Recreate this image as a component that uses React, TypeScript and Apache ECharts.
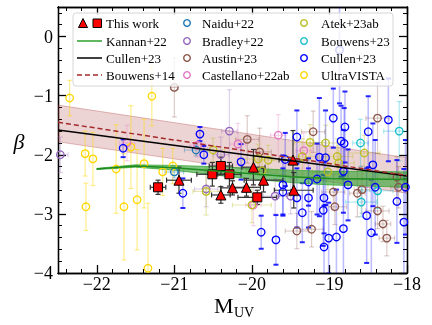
import React, { useEffect, useRef } from 'react';
import * as echarts from 'echarts';

const FONT = 'Liberation Serif';

// axis ticks
const xMajor = [-22, -21, -20, -19, -18];
const xMinor = [-22.4, -22.2, -21.8, -21.6, -21.4, -21.2, -20.8, -20.6, -20.4, -20.2, -19.8, -19.6, -19.4, -19.2, -18.8, -18.6, -18.4, -18.2];
const yMajor = [0, -1, -2, -3, -4];
const yMinor = [0.4, 0.2, -0.2, -0.4, -0.6, -0.8, -1.2, -1.4, -1.6, -1.8, -2.2, -2.4, -2.6, -2.8, -3.2, -3.4, -3.6, -3.8];

// relations
const cullenLineM = [-22.5, -18];
const cullenLineBeta = [-1.58, -2.36];
const bouwens14M = [-22.5, -18];
const bouwens14Beta = [-1.45, -2.35];
const bouwens14Hi = [-1.16, -2.05];
const bouwens14Lo = [-1.78, -2.65];
const kannanM = [-22.0, -21.5, -21.0, -20.5, -20.0, -19.5, -19.0, -18.5, -18.0];
const kannanBeta = [-2.24, -2.19, -2.22, -2.27, -2.32, -2.37, -2.4, -2.41, -2.42];
const kannanHi = [-2.23, -2.17, -2.18, -2.2, -2.23, -2.26, -2.28, -2.28, -2.29];
const kannanLo = [-2.25, -2.21, -2.26, -2.34, -2.41, -2.47, -2.51, -2.53, -2.55];

// [M, beta, xerr, yerr]
const thisWorkTri = [
  [-20.94, -2.43, 0.16, 0.22], [-20.4, -2.68, 0.12, 0.14], [-20.25, -2.56, 0.15, 0.12],
  [-20.07, -2.55, 0.18, 0.15], [-19.98, -2.21, 0.15, 0.3], [-19.85, -2.43, 0.25, 0.2],
  [-19.47, -2.09, 0.18, 0.5], [-19.46, -2.6, 0.25, 0.3],
];
const thisWorkSq = [
  [-21.21, -2.55, 0.1, 0.12], [-20.51, -2.33, 0.2, 0.2], [-20.4, -2.19, 0.15, 0.15],
  [-20.29, -2.33, 0.15, 0.2], [-19.93, -2.72, 0.25, 0.12],
];
const naidu22 = [[-21.0, -2.29, 0.12, 0.1], [-20.72, -1.92, 0.15, 0.1]];
const bradley22 = [
  [-22.47, -2.0, 0.1, 0.3], [-20.29, -1.6, 0.1, 0.7], [-20.4, -2.0, 0.1, 0.3],
  [-20.59, -2.58, 0.15, 0.3], [-19.7, -2.7, 0.15, 0.3], [-19.5, -2.7, 0.15, 0.3],
];
const austin23 = [
  [-21.0, -0.86, 0.05, 0.5], [-20.06, -1.74, 0.15, 0.4], [-19.9, -1.95, 0.15, 0.4],
  [-19.21, -1.61, 0.15, 0.35], [-18.38, -1.38, 0.15, 0.6], [-18.95, -2.63, 0.15, 0.3],
  [-18.93, -2.88, 0.15, 0.3], [-18.64, -2.65, 0.1, 0.4], [-18.58, -2.59, 0.1, 0.4],
  [-18.38, -2.95, 0.15, 0.3], [-18.31, -3.17, 0.1, 0.3], [-18.26, -3.41, 0.1, 0.3],
  [-18.11, -2.55, 0.1, 0.35], [-19.42, -3.29, 0.15, 0.3], [-19.23, -3.26, 0.15, 0.3],
  [-18.13, -2.38, 0.1, 0.35],
];
const castellano22 = [
  [-21.61, -1.8, 0.1, 0.3], [-20.7, -1.84, 0.1, 0.2], [-20.18, -1.82, 0.1, 0.35],
  [-19.66, -1.67, 0.1, 0.35], [-19.33, -1.93, 0.1, 0.3], [-19.98, -2.85, 0.1, 0.35],
];
const atek23 = [
  [-20.5, -1.92, 0.15, 0.2], [-20.59, -2.62, 0.17, 0.4], [-19.92, -2.07, 0.2, 0.25],
  [-19.79, -2.09, 0.2, 0.25], [-19.87, -2.27, 0.2, 0.25], [-19.25, -1.79, 0.2, 0.3],
  [-19.05, -1.8, 0.2, 0.3], [-19.35, -2.03, 0.2, 0.3], [-18.9, -2.03, 0.2, 0.3],
  [-18.88, -2.14, 0.2, 0.3], [-19.02, -2.29, 0.2, 0.3], [-18.55, -1.97, 0.2, 0.3],
  [-20.0, -2.85, 0.25, 0.3],
];
const bouwens23 = [
  [-18.6, -1.8, 0.1, 0.4], [-18.1, -1.6, 0.2, 0.5], [-18.59, -2.8, 0.2, 0.25], [-18.38, -2.61, 0.2, 0.3],
];
const cullen23 = [
  [-20.67, -1.65, 0, 0.12], [-20.62, -2.0, 0, 0.15], [-20.89, -2.65, 0, 0.25], [-21.66, -1.89, 0, 0.15],
  [-20.14, -2.12, 0, 0.3], [-19.57, -2.08, 0, 0.45], [-19.42, -1.7, 0, 0.45], [-19.27, -2.46, 0, 0.4],
  [-19.13, -2.04, 0, 1.0], [-19.05, -2.05, 0, 0.8], [-18.95, -1.38, 0, 0.5], [-18.85, -1.77, 0, 0.6],
  [-18.81, -1.81, 0, 0.6], [-18.8, -1.53, 0, 0.6], [-18.82, -2.28, 0, 0.7], [-18.5, -1.61, 0, 0.6],
  [-18.44, -2.17, 0, 0.7], [-18.24, -1.41, 0, 0.7], [-18.41, -2.55, 0, 0.8], [-18.02, -2.55, 0, 0.8],
  [-19.6, -2.51, 0, 0.5], [-19.27, -2.73, 0, 0.5], [-19.16, -2.41, 0, 0.6], [-18.87, -0.23, 0, 0.9],
  [-19.88, -3.31, 0, 0.28], [-19.69, -3.44, 0, 0.42], [-19.6, -2.63, 0, 0.4], [-19.42, -2.73, 0, 0.5],
  [-19.35, -2.98, 0, 0.5], [-19.08, -2.94, 0, 0.6], [-19.01, -3.41, 0, 0.6], [-19.07, -3.56, 0, 0.7],
  [-18.91, -3.39, 0, 0.8], [-18.82, -3.25, 0, 0.9], [-18.52, -3.03, 0, 0.8], [-18.46, -3.32, 0, 0.9],
  [-18.13, -2.79, 0, 0.7], [-18.04, -3.14, 0, 0.9], [-18.76, -2.51, 0, 0.6], [-19.07, -2.73, 0, 0.6],
];
const ultraVista = [
  [-22.35, -1.04, 0, 0.3], [-21.29, -1.01, 0, 0.5], [-22.15, -1.98, 0, 0.38], [-22.05, -2.07, 0, 0.45],
  [-21.75, -2.24, 0, 0.75], [-21.56, -1.87, 0, 0.7], [-21.39, -2.15, 0, 0.75], [-21.15, -2.29, 0, 0.4],
  [-21.02, -2.19, 0, 0.3], [-21.48, -2.76, 0, 0.85], [-22.14, -2.88, 0, 0.4], [-21.65, -2.88, 0, 0.9],
  [-21.34, -3.92, 0, 1.1],
];

const minus = (v: number) => (v === 0 ? '0' : (v < 0 ? '\u2212' : '') + Math.abs(v));

function errSeries(data: number[][], bar: string, cap: string, lw: number, capHalf: number, capW: number) {
  return {
    type: 'custom', clip: true, silent: true,
    data, encode: { x: 0, y: 1 },
    renderItem: (_p: any, api: any) => {
      const x = api.value(0), y = api.value(1), xe = api.value(2), ye = api.value(3);
      const ch: any[] = [];
      if (ye > 0) {
        const t = api.coord([x, y + ye]), b = api.coord([x, y - ye]);
        ch.push({ type: 'line', shape: { x1: t[0], y1: t[1], x2: b[0], y2: b[1] }, style: { stroke: bar, lineWidth: lw } });
        ch.push({ type: 'line', shape: { x1: t[0] - capHalf, y1: t[1], x2: t[0] + capHalf, y2: t[1] }, style: { stroke: cap, lineWidth: capW } });
        ch.push({ type: 'line', shape: { x1: b[0] - capHalf, y1: b[1], x2: b[0] + capHalf, y2: b[1] }, style: { stroke: cap, lineWidth: capW } });
      }
      if (xe > 0) {
        const l = api.coord([x - xe, y]), r = api.coord([x + xe, y]);
        ch.push({ type: 'line', shape: { x1: l[0], y1: l[1], x2: r[0], y2: r[1] }, style: { stroke: bar, lineWidth: lw } });
        ch.push({ type: 'line', shape: { x1: l[0], y1: l[1] - capHalf, x2: l[0], y2: l[1] + capHalf }, style: { stroke: cap, lineWidth: capW } });
        ch.push({ type: 'line', shape: { x1: r[0], y1: r[1] - capHalf, x2: r[0], y2: r[1] + capHalf }, style: { stroke: cap, lineWidth: capW } });
      }
      return { type: 'group', children: ch };
    },
  };
}

function circles(data: number[][], color: string) {
  return {
    type: 'scatter', silent: true, data: data.map((d) => [d[0], d[1]]),
    symbol: 'circle', symbolSize: 7.5,
    itemStyle: { color: 'rgba(255,255,255,0)', borderColor: color, borderWidth: 1.3, opacity: 1 },
  };
}

function band(M: number[], hi: number[], lo: number[], fill: string, stroke: string) {
  return {
    type: 'custom', clip: true, silent: true, data: [[M[0], hi[0]]],
    renderItem: (_p: any, api: any) => {
      const pts: number[][] = [];
      for (let i = 0; i < M.length; i++) pts.push(api.coord([M[i], hi[i]]));
      for (let i = M.length - 1; i >= 0; i--) pts.push(api.coord([M[i], lo[i]]));
      return { type: 'polygon', shape: { points: pts }, style: { fill, stroke, lineWidth: 1 } };
    },
  };
}

function line(M: number[], B: number[], color: string, type: any, width: number) {
  return {
    type: 'line', silent: true, data: M.map((m, i) => [m, B[i]]), showSymbol: false, symbol: 'none',
    lineStyle: { color, width, type }, smooth: false,
  };
}

function ax(pos: string, min: number, max: number, ticks: number[], len: number, labels: boolean, isY: boolean) {
  return {
    type: 'value', position: pos, min, max,
    axisLine: { show: true, onZero: false, lineStyle: { color: '#000', width: 1.3 } },
    axisTick: { show: true, inside: true, length: len, customValues: ticks, lineStyle: { color: '#000', width: len > 5 ? 1.3 : 1 } },
    axisLabel: labels
      ? { show: true, customValues: ticks, formatter: minus, fontFamily: FONT, fontSize: 18, color: '#000', margin: isY ? 5 : 2 }
      : { show: false },
    splitLine: { show: false },
  };
}

const colors = {
  naidu: '#1f77b4', bradley: '#9467bd', austin: '#8c564b', castellano: '#e377c2',
  atek: '#bcbd22', bouwens23: '#17becf', cullen: '#0000ff', uvista: '#ffd700',
};
const rgba = (hex: string, a: number) => {
  const n = parseInt(hex.slice(1), 16);
  return `rgba(${(n >> 16) & 255},${(n >> 8) & 255},${n & 255},${a})`;
};

const legendRows = [23, 41, 58, 75];
const legendCol2 = [['Naidu+22', colors.naidu], ['Bradley+22', colors.bradley], ['Austin+23', colors.austin], ['Castellano+22ab', colors.castellano]];
const legendCol3 = [['Atek+23ab', colors.atek], ['Bouwens+23', colors.bouwens23], ['Cullen+23', colors.cullen], ['UltraVISTA', colors.uvista]];

function legendGraphic() {
  const z = 100;
  const els: any[] = [
    { type: 'rect', z, shape: { x: 73, y: 13, width: 320, height: 73, r: 3 }, style: { fill: 'rgba(255,255,255,0.8)', stroke: '#d6d6d6', lineWidth: 1 } },
    { type: 'polygon', z, shape: { points: [[78.5, 27.5], [87.5, 27.5], [83, 18.5]] }, style: { fill: '#ff0000', stroke: '#000', lineWidth: 1 } },
    { type: 'rect', z, shape: { x: 93, y: 19, width: 8.5, height: 8.5 }, style: { fill: '#ff0000', stroke: '#000', lineWidth: 1 } },
    { type: 'line', z, shape: { x1: 77, y1: legendRows[1], x2: 102, y2: legendRows[1] }, style: { stroke: '#2ca02c', lineWidth: 1.5 } },
    { type: 'line', z, shape: { x1: 77, y1: legendRows[2], x2: 102, y2: legendRows[2] }, style: { stroke: '#000', lineWidth: 1.5 } },
    { type: 'line', z, shape: { x1: 77, y1: legendRows[3], x2: 102, y2: legendRows[3] }, style: { stroke: '#a52a2a', lineWidth: 1.5, lineDash: [5, 3] } },
  ];
  const col1 = ['This work', 'Kannan+22', 'Cullen+23', 'Bouwens+14'];
  col1.forEach((t, i) => els.push({ type: 'text', z, x: 106, y: legendRows[i], style: { text: t, font: `13px "${FONT}"`, fill: '#000', verticalAlign: 'middle', align: 'left' } }));
  const addCol = (items: string[][], cx: number, tx: number) => items.forEach((it, i) => {
    els.push({ type: 'circle', z, shape: { cx, cy: legendRows[i], r: 3.3 }, style: { fill: 'rgba(0,0,0,0)', stroke: it[1], lineWidth: 1.4 } });
    els.push({ type: 'text', z, x: tx, y: legendRows[i], style: { text: it[0], font: `13px "${FONT}"`, fill: '#000', verticalAlign: 'middle', align: 'left' } });
  });
  addCol(legendCol2, 187, 202);
  addCol(legendCol3, 304, 321);
  // axis titles
  els.push({ type: 'text', z, x: 19, y: 141, style: { text: '\u03b2', font: `italic 22px "${FONT}"`, fill: '#000', align: 'center', verticalAlign: 'middle' } });
  els.push({ type: 'text', z, x: 214, y: 305, style: { text: 'M', font: `22px "${FONT}"`, fill: '#000', align: 'left', verticalAlign: 'middle' } });
  els.push({ type: 'text', z, x: 234, y: 312, style: { text: 'UV', font: `14px "${FONT}"`, fill: '#000', align: 'left', verticalAlign: 'middle' } });
  return els;
}

export default function App() {
  const ref = useRef<HTMLDivElement>(null);
  useEffect(() => {
    const chart = echarts.init(ref.current!, null, { renderer: 'svg' });
    const lit: [number[][], string, number][] = [
      [ultraVista, colors.uvista, 0.45], [naidu22, colors.naidu, 0.35], [bradley22, colors.bradley, 0.3],
      [austin23, colors.austin, 0.3], [castellano22, colors.castellano, 0.3], [atek23, colors.atek, 0.35],
      [bouwens23, colors.bouwens23, 0.35],
    ];
    const series: any[] = [];
    series.push(band(bouwens14M, bouwens14Hi, bouwens14Lo, 'rgba(165,42,42,0.2)', 'rgba(165,42,42,0.3)'));
    lit.forEach(([d, c, a]) => series.push(errSeries(d, rgba(c, a), rgba(c, a), 1.2, 2.5, 1.2)));
    series.push(errSeries(cullen23, 'rgba(0,0,255,0.25)', 'rgba(0,0,255,0.85)', 1.6, 2.5, 2));
    series.push(band(kannanM, kannanHi, kannanLo, 'rgba(44,160,44,0.6)', 'rgba(44,160,44,0.7)'));
    series.push(line(kannanM, kannanBeta, '#1e8c1e', 'solid', 1.5));
    series.push(line(cullenLineM, cullenLineBeta, '#000', 'solid', 1.5));
    series.push(line(bouwens14M, bouwens14Beta, '#a52a2a', [5, 3], 1.5));
    lit.forEach(([d, c]) => series.push(circles(d, c)));
    series.push(circles(cullen23, colors.cullen));
    series.push(errSeries(thisWorkTri, '#333', '#333', 1.2, 2.5, 1.2));
    series.push(errSeries(thisWorkSq, '#333', '#333', 1.2, 2.5, 1.2));
    series.push({ type: 'scatter', silent: true, data: thisWorkTri.map((d) => [d[0], d[1]]), symbol: 'triangle', symbolSize: 10, itemStyle: { color: '#ff0000', borderColor: '#000', borderWidth: 1, opacity: 1 } });
    series.push({ type: 'scatter', silent: true, data: thisWorkSq.map((d) => [d[0], d[1]]), symbol: 'rect', symbolSize: 9, itemStyle: { color: '#ff0000', borderColor: '#000', borderWidth: 1, opacity: 1 } });

    chart.setOption({
      animation: false,
      grid: { left: 58, right: 25, top: 7, bottom: 52, containLabel: false, outerBoundsMode: 'none' },
      xAxis: [
        ax('bottom', -22.5, -18, xMajor, 8, true, false),
        ax('bottom', -22.5, -18, xMinor, 4, false, false),
        ax('top', -22.5, -18, xMajor, 8, false, false),
        ax('top', -22.5, -18, xMinor, 4, false, false),
      ],
      yAxis: [
        ax('left', -4, 0.5, yMajor, 8, true, true),
        ax('left', -4, 0.5, yMinor, 4, false, true),
        ax('right', -4, 0.5, yMajor, 8, false, true),
        ax('right', -4, 0.5, yMinor, 4, false, true),
      ],
      series,
      graphic: legendGraphic(),
    });
    return () => chart.dispose();
  }, []);
  return <div ref={ref} style={{ position: 'fixed', left: 0, top: 0, width: 432, height: 325 }} />;
}
